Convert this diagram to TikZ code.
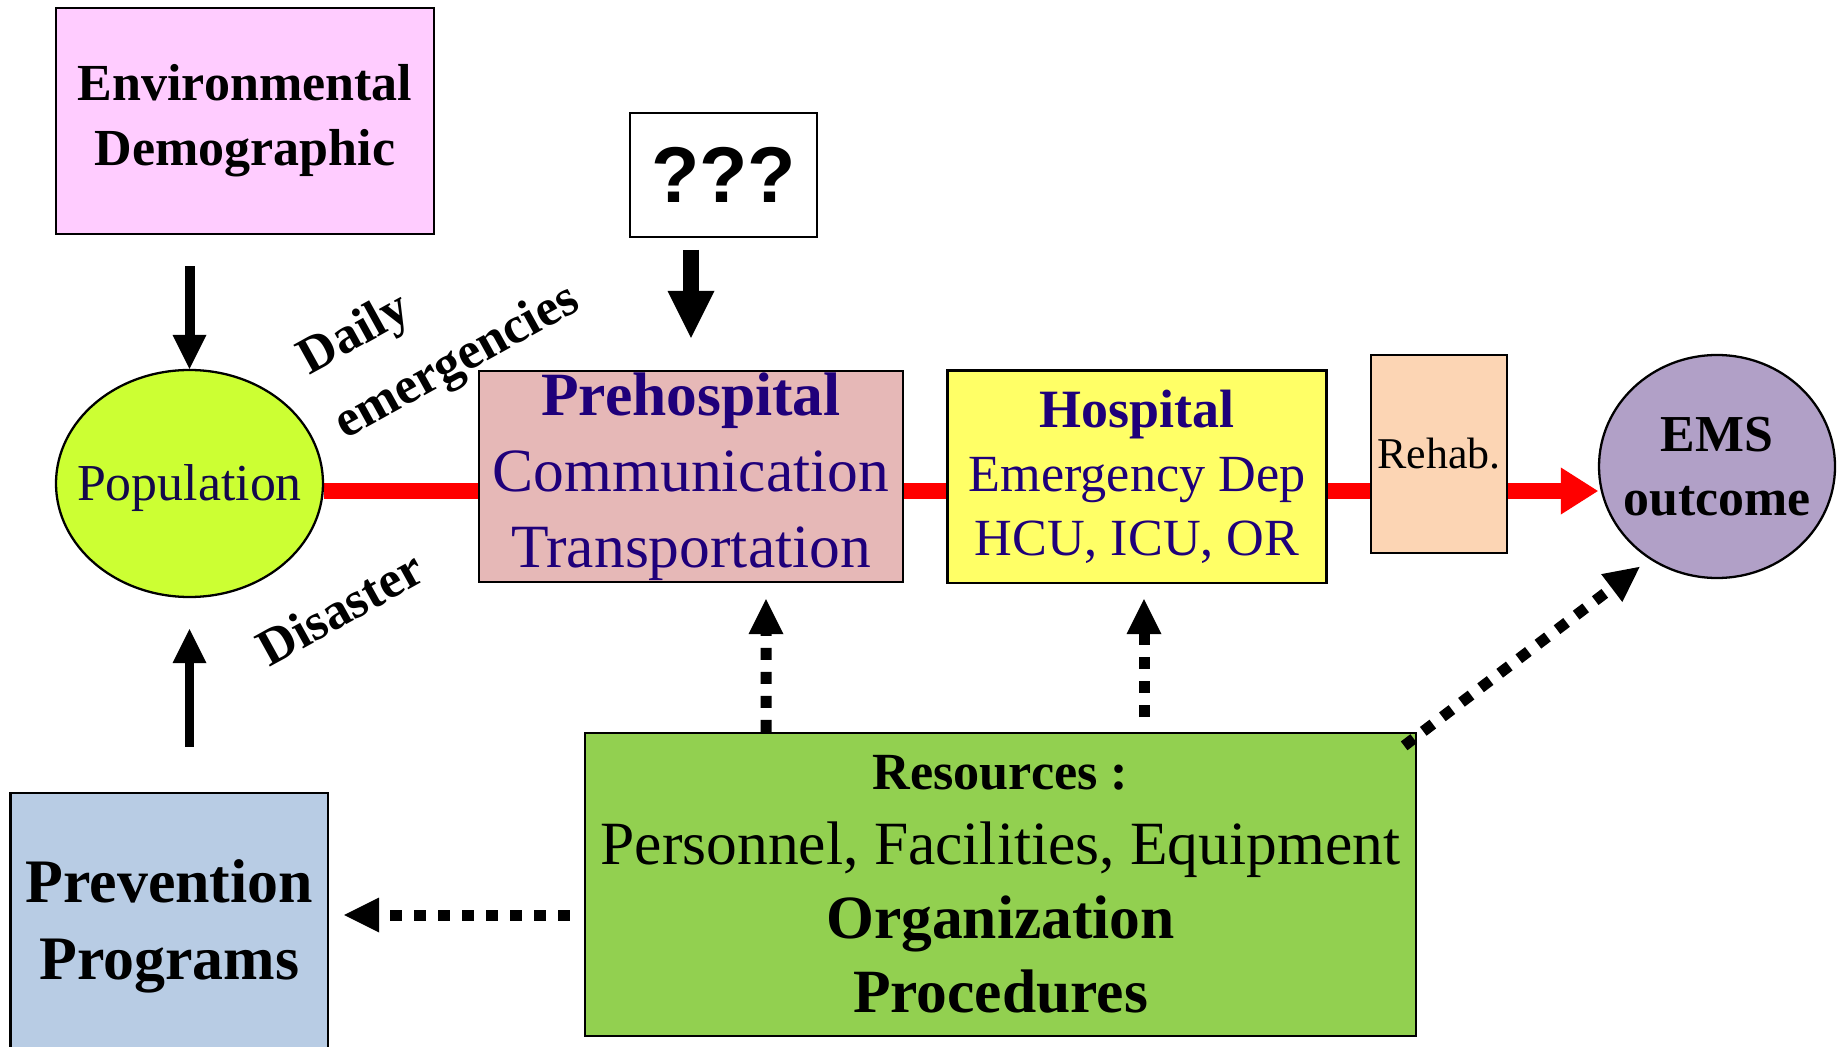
\documentclass[tikz,border=0pt]{standalone}
\usepackage{fontspec}
\setmainfont{Liberation Serif}
\newfontfamily\qfont{Liberation Sans}
\usepackage{xcolor}
\usepackage{tikz}
\usetikzlibrary{arrows.meta,shapes.geometric,backgrounds}

\definecolor{envpink}{RGB}{255,204,255}
\definecolor{popgreen}{RGB}{204,255,51}
\definecolor{prerose}{RGB}{230,184,183}
\definecolor{hospyellow}{RGB}{255,255,102}
\definecolor{rehabpeach}{RGB}{252,213,180}
\definecolor{emslilac}{RGB}{177,160,199}
\definecolor{prevblue}{RGB}{184,204,228}
\definecolor{resgreen}{RGB}{146,208,80}
\definecolor{navy}{RGB}{31,0,122}
\definecolor{popnavy}{RGB}{20,8,75}

\begin{document}
\begin{tikzpicture}[
    box/.style={rectangle,draw,line width=1.3pt,inner sep=0pt,align=center},
    oval/.style={ellipse,draw,line width=1.3pt,inner sep=0pt},
    redline/.style={line width=0.32cm,red},
    push/.style={-{Triangle[length=0.68cm,width=0.68cm,line width=0pt]},line width=0.2cm},
    reslink/.style={-{Triangle[length=0.7cm,width=0.7cm,line width=0pt]},line width=0.22cm,dash pattern=on 0.24cm off 0.24cm},
    tag/.style={font=\fontsize{29.5}{42}\selectfont\bfseries,rotate=29}
]
\useasboundingbox (0,0) rectangle (36.9,-20.94);

%%% top row: influences
\node[box,fill=envpink,minimum width=7.56cm,minimum height=4.52cm,font=\fontsize{29.6}{37}\selectfont\bfseries] (env) at (4.90,-2.42) {Environmental\\Demographic};
\node[box,fill=white,minimum width=3.74cm,minimum height=2.49cm,font=\qfont\fontsize{45}{50}\selectfont\bfseries] (qq) at (14.47,-3.50) {???};

%%% middle row: the chain of care
\node[oval,fill=popgreen,minimum width=5.34cm,minimum height=4.54cm,
      label={[yshift=-0.09cm,font=\fontsize{29.5}{35}\selectfont,text=popnavy]center:Population}] (pop) at (3.79,-9.67) {};
\node[box,fill=prerose,minimum width=8.48cm,minimum height=4.22cm,text=navy,font=\fontsize{35}{43.2}\selectfont] (pre) at (13.82,-9.53) {\textbf{Prehospital}\\Communication\\Transportation};
\node[box,fill=hospyellow,minimum width=7.58cm,minimum height=4.25cm,text=navy,font=\fontsize{29.7}{36.5}\selectfont] (hosp) at (22.74,-9.535) {{\fontsize{30.7}{36.5}\selectfont\bfseries Hospital}\\Emergency Dep\\HCU, ICU, OR};
\node[box,fill=rehabpeach,minimum width=2.72cm,minimum height=3.96cm,font=\fontsize{25}{30}\selectfont] (rehab) at (28.78,-9.08) {Rehab.};
\node[oval,fill=emslilac,minimum width=4.72cm,minimum height=4.46cm,
      label={[align=center,font=\fontsize{29.5}{36.5}\selectfont\bfseries]center:EMS\\outcome}] (ems) at (34.34,-9.33) {};

%%% bottom row
\node[box,fill=prevblue,minimum width=6.35cm,minimum height=5.34cm,font=\fontsize{35.2}{44}\selectfont\bfseries] (prev) at (3.386,-18.53) {Prevention\\Programs};
\node[box,fill=resgreen,minimum width=16.62cm,minimum height=6.06cm,font=\fontsize{35}{42.3}\selectfont] (res) at (20.01,-17.69) {{\fontsize{29.7}{42.3}\selectfont\bfseries Resources :}\\Personnel, Facilities, Equipment\\\textbf{Organization}\\\textbf{Procedures}};

% slanted labels
\node[tag,align=left] (daily) at (8.80,-6.62) {Daily\\emergencies};
\node[tag] (dis) at (6.80,-12.16) {Disaster};

% red flow line, behind the boxes
\coordinate (flow) at (0,-9.82);
\begin{pgfonlayer}{background}
\draw[redline] (pop.east |- flow) -- (pre.west |- flow);
\draw[redline] (pre.east |- flow) -- (hosp.west |- flow);
\draw[redline] (hosp.east |- flow) -- (rehab.west |- flow);
\draw[redline,-{Triangle[length=0.74cm,width=0.94cm,line width=0pt]}] (rehab.east |- flow) -- (ems.west |- flow);
\end{pgfonlayer}

% solid arrows
\draw[push,shorten <=0.62cm] (pop.north |- env.south) -- (pop.north);
\draw[push,line width=0.32cm,-{Triangle[length=0.94cm,width=0.94cm,line width=0pt]},shorten <=0.23cm,shorten >=0.64cm] (pre.north |- qq.south) -- (pre.north);
\draw[push,line width=0.18cm,shorten <=0.9cm,shorten >=0.62cm] (pop.south |- prev.north) -- (pop.south);

% dotted arrows out of the resources
\draw[reslink,shorten >=0.32cm] ([xshift=-4.69cm]res.north) -- ([xshift=1.5cm]pre.south);
\draw[reslink,shorten <=0.3cm,shorten >=0.3cm] ([xshift=0.14cm]hosp.south |- res.north) -- ([xshift=0.14cm]hosp.south);
\draw[reslink,shorten >=0.25cm] ([xshift=-0.26cm,yshift=-0.28cm]res.north east) -- (ems.-126.5);
\draw[reslink,shorten <=0.28cm,shorten >=0.3cm] ([yshift=-0.61cm]res.west) -- ([yshift=-0.61cm]res.west -| prev.east);
\end{tikzpicture}
\end{document}
